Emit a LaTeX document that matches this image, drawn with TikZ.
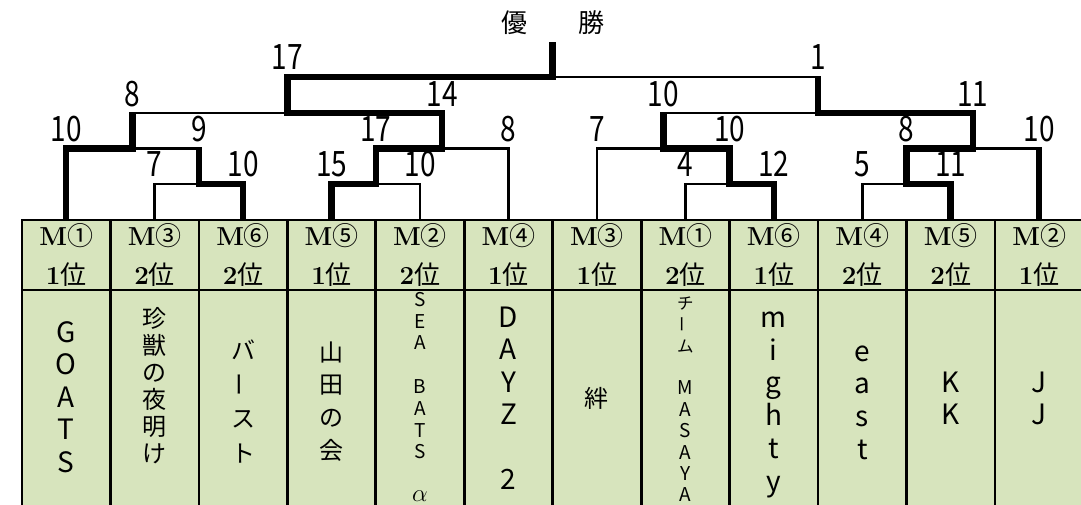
\documentclass[tikz,border=0pt]{standalone}
\usepackage{fontspec}
\usetikzlibrary{calc}
\newfontfamily\jp{Noto Sans CJK JP}
\newfontfamily\jpnum[FakeStretch=0.8]{Noto Sans CJK JP}
\definecolor{cellgreen}{HTML}{D7E4BD}
\newcommand\vname[5]{% #1 prefix, #2 x, #3 y0, #4 pitch, #5 style, then list
  \vnameaux{#1}{#2}{#3}{#4}{#5}}
\newcommand\vnameaux[6]{%
  \foreach \k/\ch in {#6} {\node[#5] (#1\k) at (#2,{#3+\k*#4}) {\ch};}}
\newcommand\vbar{\raisebox{-0.12em}{\rotatebox{90}{ー}}}
\begin{document}
\begin{tikzpicture}[x=1pt,y=-1pt,
  hcell/.style={draw=black, line width=2.7pt, fill=cellgreen, minimum width=88.45pt,
    minimum height=70pt, inner sep=0pt, align=center, font=\fontsize{26}{39}\selectfont},
  bcell/.style={draw=black, line width=2.7pt, fill=cellgreen, minimum width=88.45pt,
    minimum height=220pt, inner sep=0pt},
  nmbig/.style={font=\jp\fontsize{28}{28}\selectfont, inner sep=0pt, text height=22.5pt, text depth=4pt},
  nmbigj/.style={font=\jp\fontsize{24}{24}\selectfont, inner sep=0pt, text height=21.1pt, text depth=2.9pt},
  nmsmall/.style={font=\jp\fontsize{19}{19}\selectfont, inner sep=0pt, text height=14pt, text depth=1.4pt},
  nmalpha/.style={font=\fontsize{25}{25}\selectfont, inner sep=0pt, text height=10pt, text depth=0pt},
  nmsmallj/.style={font=\jp\fontsize{16.5}{16.5}\selectfont, inner sep=0pt, text height=14.5pt, text depth=2pt},
  lab/.style={font=\jpnum\fontsize{35}{35}\selectfont, inner sep=0pt, text height=22.8pt, text depth=0pt},
  lose/.style={line width=2.8pt, line join=miter},
  win/.style={line width=6.5pt, line join=miter},
  winend/.style={shorten >=-1.4pt}
]
\useasboundingbox (0,0) rectangle (1081,504);
\clip (0,0) rectangle (1081,504);

% table
\foreach \i/\m/\r in {1/①/1,2/③/2,3/⑥/2,4/⑤/1,5/②/2,6/④/1,7/③/1,8/①/2,9/⑥/1,10/④/2,11/⑤/2,12/②/1}{
  \pgfmathsetmacro\cx{22+88.45*(\i-0.5)}
  \node[bcell] (b\i) at (\cx,400) {};
  \node[hcell] (h\i) at (\cx,255) {{\bfseries M}{\jp\m}\\{\bfseries\r}{\jp 位}};
}

% team names (vertical)
\vname{nA}{66.2}{333}{32.5}{nmbig}{0/G,1/O,2/A,3/T,4/S}
\vname{nB}{154.7}{318}{27}{nmbigj}{0/珍,1/獣,2/の,3/夜,4/明,5/け}
\vname{nC}{243.1}{350}{34.3}{nmbigj}{0/バ,1/\vbar,2/ス,3/ト}
\vname{nD}{331.6}{352}{32.7}{nmbigj}{0/山,1/田,2/の,3/会}
\vname{nE}{420.0}{300}{21.8}{nmsmall}{0/S,1/E,2/A,4/B,5/A,6/T,7/S}
\vname{nEa}{420.0}{300}{21.8}{nmalpha}{9/$\alpha$}
\vname{nF}{508.5}{318}{32.4}{nmbig}{0/D,1/A,2/Y,3/Z,5/2}
\vname{nG}{596.9}{398}{30}{nmbigj}{0/絆}
\vname{nH}{685.4}{303}{21.4}{nmsmallj}{0/チ,1/\vbar,2/ム}
\vname{nHm}{685.4}{303}{21.4}{nmsmall}{4/M,5/A,6/S,7/A,8/Y,9/A}
\vname{nI}{773.8}{318}{32.8}{nmbig}{0/m,1/i,2/g,3/h,4/t,5/y}
\vname{nJ}{862.3}{352}{32.7}{nmbig}{0/e,1/a,2/s,3/t}
\vname{nK}{950.7}{383}{32}{nmbig}{0/K,1/K}
\vname{nL}{1039.2}{383}{32}{nmbig}{0/J,1/J}

% match points
\coordinate (A) at (198.9,184);
\coordinate (B) at (132.56,148.5);
\coordinate (C) at (375.8,184);
\coordinate (D) at (442.14,148.5);
\coordinate (E) at (287.35,113);
\coordinate (F) at (729.6,184);
\coordinate (G) at (663.26,148.5);
\coordinate (H) at (906.5,184);
\coordinate (I) at (972.84,148.5);
\coordinate (J) at (818.05,113);
\coordinate (Fin) at (552.7,77);
\coordinate (Top) at (552.7,42);

% losing lines
\draw[lose] (h2.north) |- (A);
\draw[lose] (A |- B) -- (B);
\draw[lose] (B |- E) -- (E);
\draw[lose] (h5.north) |- (C);
\draw[lose] (h6.north) |- (D);
\draw[lose] (h7.north) |- (G);
\draw[lose] (h8.north) |- (F);
\draw[lose] (G |- J) -- (J);
\draw[lose] (h10.north) |- (H);
\draw[lose] (h12.north |- I) -- (I);
\draw[lose] (J |- Fin) -- (Fin);

% winning lines
\draw[win,winend] (h1.north) |- (B) -- (B |- E);
\draw[win,winend] (h3.north) |- (A) -- (A |- B);
\draw[win] (h4.north) |- (C) -- (C |- D) -- (D) -- (D |- E) -- (E) -- (E |- Fin) -- (Fin) -- (Top);
\draw[win,winend] (h9.north) |- (F) -- (F |- G) -- (G) -- (G |- J);
\draw[win,winend] (h11.north) |- (H) -- (H |- I) -- (I) -- (I |- J) -- (J) -- (J |- Fin);
\draw[win,winend] (h12.north) -- (h12.north |- I);

% scores
\node[lab] (s1a) at (154.7,165) {7};
\node[lab] (s1b) at (243.1,165) {10};
\node[lab] (s1c) at (331.6,165) {15};
\node[lab] (s1d) at (420.0,165) {10};
\node[lab] (s1e) at (685.4,165) {4};
\node[lab] (s1f) at (773.8,165) {12};
\node[lab] (s1g) at (862.3,165) {5};
\node[lab] (s1h) at (950.7,165) {11};
\node[lab] (s2a) at (66.2,130) {10};
\node[lab] (s2b) at (198.9,130) {9};
\node[lab] (s2c) at (375.8,130) {17};
\node[lab] (s2d) at (508.5,130) {8};
\node[lab] (s2e) at (596.9,130) {7};
\node[lab] (s2f) at (729.6,130) {10};
\node[lab] (s2g) at (906.5,130) {8};
\node[lab] (s2h) at (1039.2,130) {10};
\node[lab] (s3a) at (132.56,95) {8};
\node[lab] (s3b) at (442.14,95) {14};
\node[lab] (s3c) at (663.26,95) {10};
\node[lab] (s3d) at (972.84,95) {11};
\node[lab] (s4a) at (287.35,58) {17};
\node[lab] (s4b) at (818.05,58) {1};

% title
\node[font=\jp\fontsize{26}{26}\selectfont, inner sep=0pt] (title) at (552.7,23) {優\hspace{51pt}勝};
\end{tikzpicture}
\end{document}
